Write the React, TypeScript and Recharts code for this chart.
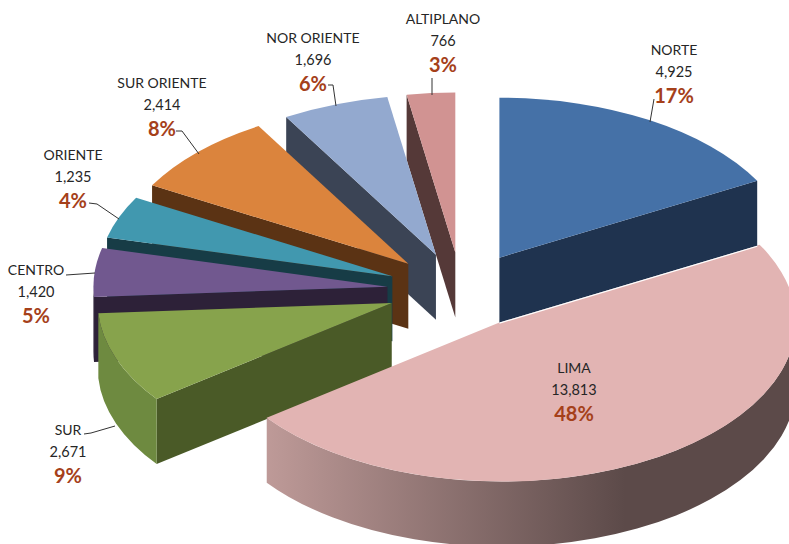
import { PieChart, Pie } from 'recharts';

// slices go counter-clockwise from 12 o'clock so the far ones paint first
const regions = ['ALTIPLANO', 'NOR ORIENTE', 'SUR ORIENTE', 'ORIENTE', 'CENTRO', 'SUR', 'LIMA', 'NORTE'];
const totals = [766, 1696, 2414, 1235, 1420, 2671, 13813, 4925];

const topColors = ['#D19392', '#93A9CF', '#DB843D', '#4198AF', '#71588F', '#87A34C', '#E2B4B3', '#4571A7'];
const wallColors = ['#553938', '#3B4455', '#5B3314', '#173C46', '#2D2138', '#4A5A27', '#5C4A49', '#1F334F'];
const rimLeft = ['#553938', '#3B4455', '#5B3314', '#173C46', '#2D2138', '#6E8A40', '#BE9A98', '#1F334F'];
const rimRight = ['#553938', '#3B4455', '#5B3314', '#173C46', '#2D2138', '#7C9846', '#5C4A49', '#1F334F'];

// label centre x, first baseline y, leader polyline
const labelX = [443, 313, 162, 73, 36, 68, 574, 674];
const labelY = [24, 43, 88, 160, 275, 435, 373, 55];
const leaders = [
  '432,78 432,95',
  '328,85 333,85 336,106',
  '176,131 182,131 199,154',
  '89,203 97,204 119,219',
  '66,275 95,273',
  '84,434 91,433 115,426',
  '',
  '654,99 650,122',
];

const WIDTH = 789;
const HEIGHT = 544;
const CX = 461.5;
const CY = 290;
const RADIUS = 294;
const SQUASH = 0.544;
const EXPLODE_X = 0.253;
const EXPLODE_Y = 0.235;
const DEPTH = 65;
const RAD = Math.PI / 180;

const data = regions.map((name, i) => ({ name, value: totals[i] }));

function Slice(props: any) {
  const { cx, cy, outerRadius, startAngle, endAngle, index } = props;
  const s = Math.min(startAngle, endAngle);
  const e = Math.max(startAngle, endAngle);
  const ry = outerRadius * SQUASH;
  const mid = ((s + e) / 2) * RAD;
  const ax = cx + EXPLODE_X * outerRadius * Math.cos(mid);
  const ay = cy - EXPLODE_Y * ry * Math.sin(mid);
  const pt = (deg: number, drop = 0) => [
    ax + outerRadius * Math.cos(deg * RAD),
    ay - ry * Math.sin(deg * RAD) + drop,
  ];
  const arc = (from: number, to: number, drop = 0) => {
    const [x, y] = pt(to, drop);
    const big = Math.abs(to - from) > 180 ? 1 : 0;
    const sweep = to > from ? 0 : 1;
    return `A${outerRadius} ${ry} 0 ${big} ${sweep} ${x} ${y}`;
  };

  const wall = (deg: number) => {
    const [x, y] = pt(deg);
    return `M${ax} ${ay}L${x} ${y}L${x} ${y + DEPTH}L${ax} ${ay + DEPTH}Z`;
  };
  const showStart = Math.sin((s - 90) * RAD) < 0;
  const showEnd = Math.sin((e + 90) * RAD) < 0;

  // the rim only shows on the front half of the ellipse
  let rimPath = '';
  for (const base of [180, 540]) {
    const from = Math.max(s, base);
    const to = Math.min(e, base + 180);
    if (to > from) {
      const [x0, y0] = pt(from);
      const [x1, y1] = pt(to, DEPTH);
      rimPath += `M${x0} ${y0}${arc(from, to)}L${x1} ${y1}${arc(to, from, DEPTH)}Z`;
    }
  }

  const [sx, sy] = pt(s);
  const gradId = `rim-${index}`;
  const gradEnd = ax + outerRadius * 0.42;
  const isNorte = regions[index] === 'NORTE';

  return (
    <g>
      <defs>
        <linearGradient id={gradId} gradientUnits="userSpaceOnUse" x1={ax - outerRadius * 0.8} y1={0} x2={gradEnd} y2={0}>
          <stop offset="0" stopColor={rimLeft[index]} />
          <stop offset="1" stopColor={rimRight[index]} />
        </linearGradient>
      </defs>
      {showStart && <path d={wall(s)} fill={wallColors[index]} />}
      {showEnd && <path d={wall(e)} fill={wallColors[index]} />}
      {rimPath && <path d={rimPath} fill={`url(#${gradId})`} />}
      <path d={`M${ax} ${ay}L${sx} ${sy}${arc(s, e)}Z`} fill={topColors[index]} />
      {/* thin light seam where the Norte wall meets Lima */}
      {isNorte && <line x1={ax} y1={ay + DEPTH + 0.5} x2={sx} y2={sy + DEPTH + 0.5} stroke="#FFFFFF" strokeWidth={1.2} />}
    </g>
  );
}

function SliceLabel(props: any) {
  const { index, value, percent, name } = props;
  const x = labelX[index];
  const y = labelY[index];
  return (
    <g fontFamily="Lato, sans-serif" textAnchor="middle">
      {leaders[index] && <polyline points={leaders[index]} fill="none" stroke="#333333" strokeWidth={1} />}
      <text x={x} y={y} fontSize={14} fill="#262626">{name}</text>
      <text x={x} y={y + 22} fontSize={14.5} fill="#262626">{value.toLocaleString('en-US')}</text>
      <text x={x} y={y + 48} fontSize={20} fontWeight={700} fill="#A5401A">{Math.round(percent * 100)}%</text>
    </g>
  );
}

export default function App() {
  return (
    <div style={{ position: 'absolute', left: 0, top: 0, width: WIDTH, height: HEIGHT, background: '#fff' }}>
      <PieChart width={WIDTH} height={HEIGHT} margin={{ top: 0, right: 0, bottom: 0, left: 0 }}>
        <Pie
          data={data}
          dataKey="value"
          nameKey="name"
          cx={CX}
          cy={CY}
          innerRadius={0}
          outerRadius={RADIUS}
          startAngle={90}
          endAngle={450}
          stroke="none"
          shape={Slice}
          label={SliceLabel}
          labelLine={false}
          isAnimationActive={false}
        />
      </PieChart>
    </div>
  );
}
